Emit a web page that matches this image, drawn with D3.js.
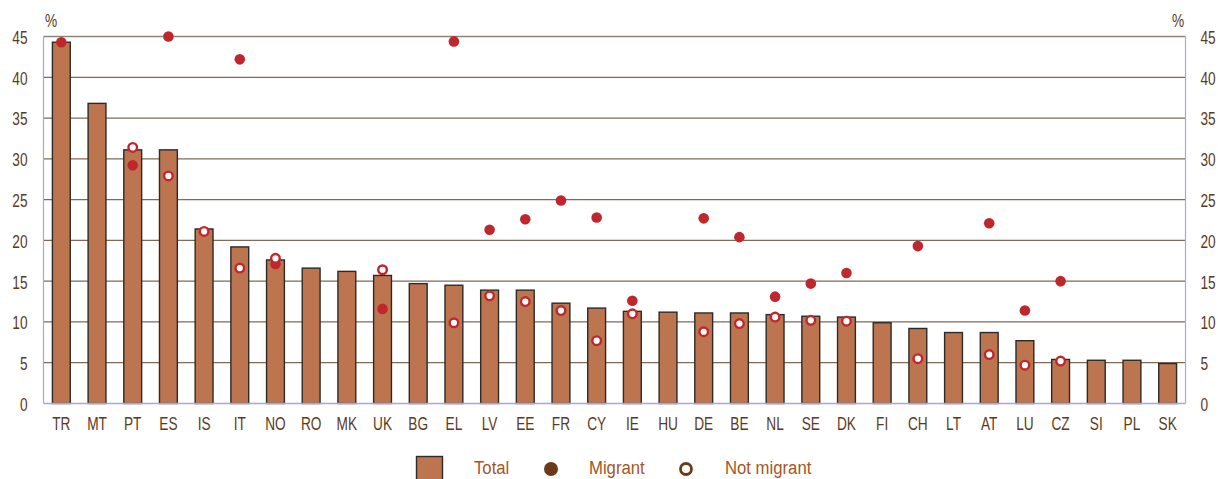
<!DOCTYPE html>
<html><head><meta charset="utf-8">
<script src="https://cdn.jsdelivr.net/npm/d3@7"></script>
<style>
body{margin:0;background:#fff;}
text{font-family:"Liberation Sans",Arial,sans-serif;}
</style></head>
<body><svg id="c" width="1218" height="479"></svg>
<script>
const categories = ["TR","MT","PT","ES","IS","IT","NO","RO","MK","UK","BG","EL","LV","EE","FR","CY","IE","HU","DE","BE","NL","SE","DK","FI","CH","LT","AT","LU","CZ","SI","PL","SK"];
const total = [44.3,36.8,31.1,31.1,21.4,19.2,17.6,16.6,16.2,15.7,14.7,14.5,13.9,13.9,12.3,11.7,11.3,11.2,11.1,11.1,10.9,10.7,10.6,9.9,9.2,8.7,8.7,7.7,5.4,5.3,5.3,4.9];
const migrant = [44.3,null,29.2,45.0,null,42.2,17.1,null,null,11.6,null,44.4,21.3,22.6,24.9,22.8,12.6,null,22.7,20.4,13.1,14.7,16.0,null,19.3,null,22.1,11.4,15.0,null,null,null];
const notMigrant = [null,null,31.4,27.9,21.1,16.6,17.8,null,null,16.4,null,9.9,13.2,12.5,11.4,7.7,11.0,null,8.8,9.8,10.6,10.2,10.1,null,5.5,null,6.0,4.7,5.2,null,null,null];
const yTicks = [0,5,10,15,20,25,30,35,40,45];
const legendLabels = ["Total","Migrant","Not migrant"];

const svg = d3.select("#c");
const L = 43.5, R = 1185.5, T = 36.5, B = 403.5;
const x = d3.scaleBand().domain(categories).range([L,R]).paddingInner(0.5).paddingOuter(0.25);
const y = d3.scaleLinear().domain([0,45]).range([B,T]);
const textCol = "#5b3a1d";
const SX = 0.72;

function squeeze(sel, s){
  sel.each(function(){
    const t = d3.select(this);
    const xv = +(t.attr("x")||0);
    t.attr("x", xv/s).attr("transform", `scale(${s},1)`);
  });
}

// gridlines
svg.append("g").selectAll("line").data(yTicks.filter(d=>d>0)).join("line")
  .attr("x1",L).attr("x2",R).attr("y1",d=>y(d)).attr("y2",d=>y(d))
  .attr("stroke",d=>d===45?"#8f8478":"#7d6a58").attr("stroke-width",1.3);

// frame axes (left, right)
svg.append("line").attr("x1",L).attr("x2",L).attr("y1",T).attr("y2",B).attr("stroke","#a8a8d8").attr("stroke-width",1.2);
svg.append("line").attr("x1",R).attr("x2",R).attr("y1",T).attr("y2",B).attr("stroke","#a8a8d8").attr("stroke-width",1.2);

// bars
svg.append("g").selectAll("rect").data(categories).join("rect")
  .attr("x",d=>x(d)).attr("width",x.bandwidth())
  .attr("y",(d,i)=>y(total[i])).attr("height",(d,i)=>y(0)-y(total[i]))
  .attr("fill","#bd7550").attr("stroke","#2e2a26").attr("stroke-width",1.4);

svg.append("line").attr("x1",L).attr("x2",R).attr("y1",B).attr("y2",B).attr("stroke","#a8a8d8").attr("stroke-width",1.3);

// migrant points
svg.append("g").selectAll("circle").data(categories.map((c,i)=>({c,v:migrant[i]})).filter(d=>d.v!=null)).join("circle")
  .attr("cx",d=>x(d.c)+x.bandwidth()/2).attr("cy",d=>y(d.v)).attr("r",5.3)
  .attr("fill","#c0272d");
// not migrant points
svg.append("g").selectAll("circle").data(categories.map((c,i)=>({c,v:notMigrant[i]})).filter(d=>d.v!=null)).join("circle")
  .attr("cx",d=>x(d.c)+x.bandwidth()/2).attr("cy",d=>y(d.v)).attr("r",4.3)
  .attr("fill","#fff").attr("stroke","#c0272d").attr("stroke-width",2.4);

// y axes
const gl = svg.append("g").attr("transform",`translate(${L},0)`).call(d3.axisLeft(y).tickValues(yTicks).tickSize(0).tickPadding(16));
gl.select(".domain").remove();
gl.selectAll("text").attr("fill",textCol).attr("font-size",19).attr("dy","0.36em").attr("font-family",null);
squeeze(gl.selectAll("text"), SX);
const gr = svg.append("g").attr("transform",`translate(${R},0)`).call(d3.axisRight(y).tickValues(yTicks).tickSize(0).tickPadding(15));
gr.select(".domain").remove();
gr.selectAll("text").attr("fill",textCol).attr("font-size",19).attr("dy","0.36em").attr("font-family",null);
squeeze(gr.selectAll("text"), SX);

// x axis
const xa = svg.append("g").attr("transform",`translate(0,${B})`).call(d3.axisBottom(x).tickSize(0).tickPadding(10));
xa.select(".domain").remove();
xa.selectAll("text").attr("fill",textCol).attr("font-size",19).attr("dy","0.85em").attr("font-family",null);
squeeze(xa.selectAll("text"), SX);

// % labels
const pct = svg.append("g");
pct.append("text").attr("x",51).attr("y",27).attr("text-anchor","middle").attr("fill",textCol).attr("font-size",19).text("%");
pct.append("text").attr("x",1178).attr("y",27).attr("text-anchor","middle").attr("fill",textCol).attr("font-size",19).text("%");
squeeze(pct.selectAll("text"), SX);

// legend
const lg = svg.append("g");
lg.append("rect").attr("x",416.5).attr("y",456.5).attr("width",26).attr("height",26).attr("fill","#bd7550").attr("stroke","#2e2a26").attr("stroke-width",1.4);
lg.append("circle").attr("cx",551).attr("cy",469).attr("r",7).attr("fill","#6b3a16");
lg.append("circle").attr("cx",686).attr("cy",469).attr("r",5.5).attr("fill","#fff").attr("stroke","#6b3a16").attr("stroke-width",2.8);
const lx = [474,589,725];
const lt = lg.append("g").selectAll("text").data(legendLabels).join("text")
  .attr("x",(d,i)=>lx[i]).attr("y",474).attr("fill","#a4561f").attr("font-size",19).text(d=>d);
squeeze(lt, 0.88);
</script></body></html>
